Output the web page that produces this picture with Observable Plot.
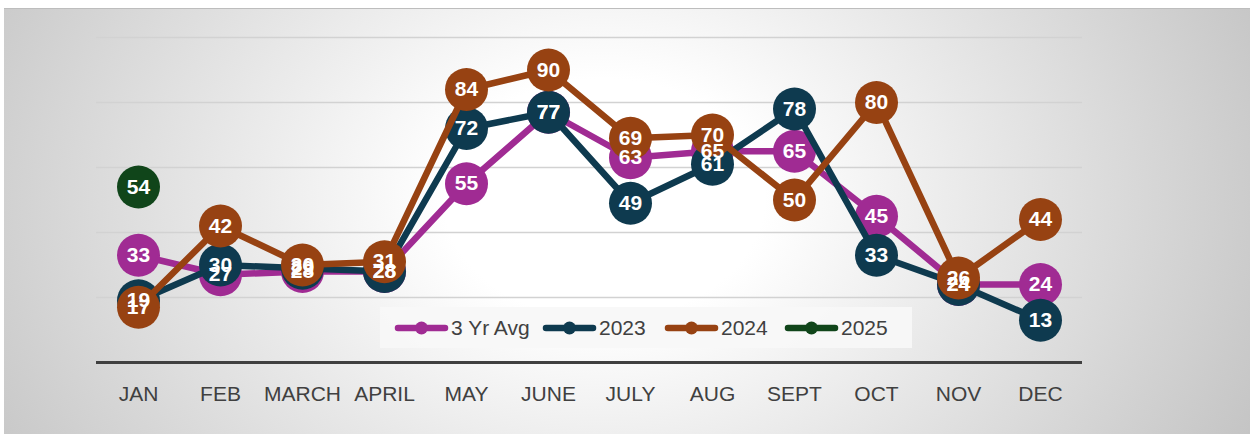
<!DOCTYPE html>
<html><head><meta charset="utf-8">
<script src="https://cdn.jsdelivr.net/npm/d3@7"></script>
<script src="https://cdn.jsdelivr.net/npm/@observablehq/plot@0.6"></script>
<style>
body{margin:0;background:#fff;}
#wrap{position:relative;width:1252px;height:434px;overflow:hidden;font-family:"Liberation Sans",Arial,sans-serif;}
#frame{position:absolute;left:4px;top:8px;width:1246px;height:426px;background:radial-gradient(ellipse 800px 600px at 600px 190px,#ffffff 0%,#ffffff 20%,#bcbcbc 100%);border-top:1px solid #bdbdbd;box-sizing:border-box;}
#chart{position:absolute;left:0;top:0;}
#legend{position:absolute;left:380px;top:307px;width:532px;height:41px;background:rgba(247,247,247,0.92);font-size:21px;color:#404040;}
.item{position:absolute;top:0;height:41px;display:flex;align-items:center;gap:2px;}
</style>
</head><body>
<div id="wrap"><div id="frame"></div><div id="chart"></div><div id="legend"></div></div>
<script>
const months = ["JAN","FEB","MARCH","APRIL","MAY","JUNE","JULY","AUG","SEPT","OCT","NOV","DEC"];
const avg3   = [33, 27, 28, 28, 55, 77, 63, 65, 65, 45, 24, 24];
const y2023  = [19, 30, 29, 28, 72, 77, 49, 61, 78, 33, 24, 13];
const y2024  = [17, 42, 30, 31, 84, 90, 69, 70, 50, 80, 26, 44];
const y2025  = [54];
const seriesNames  = ["3 Yr Avg", "2023", "2024", "2025"];
const seriesValues = [avg3, y2023, y2024, y2025];
const seriesColors = ["#A02B93", "#0E3A4F", "#974212", "#10451A"];
const gridTicks = [20, 40, 60, 80, 100];

const series = seriesNames.map((name, k) => ({
  name, color: seriesColors[k],
  rows: seriesValues[k].map((v, i) => ({month: months[i], value: v, series: name}))
}));

const marks = [
  Plot.ruleY(gridTicks, {stroke: "#d2d2d2", strokeWidth: 1.5}),
  Plot.ruleY([0], {stroke: "#404040", strokeWidth: 3}),
  Plot.axisX({tickSize: 0, tickPadding: 24, fontSize: 21, color: "#404040", fontFamily: "Liberation Sans, Arial, sans-serif"})
];
for (const s of series) {
  marks.push(Plot.line(s.rows, {x: "month", y: "value", stroke: s.color, strokeWidth: 6.5}));
  marks.push(Plot.dot(s.rows, {x: "month", y: "value", r: 21.5, fill: s.color, stroke: "none"}));
}
for (const s of series) {
  marks.push(Plot.text(s.rows, {x: "month", y: "value", text: d => String(d.value), fill: "white", fontWeight: "bold", fontSize: 21}));
}

const chart = Plot.plot({
  width: 1252, height: 434,
  marginLeft: 96, marginRight: 170, marginTop: 37, marginBottom: 72,
  x: {type: "point", domain: months, padding: 0.5, label: null},
  y: {domain: [0, 100], axis: null},
  style: {background: "transparent", fontFamily: "Liberation Sans, Arial, sans-serif", overflow: "visible"},
  marks
});
document.getElementById("chart").appendChild(chart);

const legend = document.getElementById("legend");
const legendLefts = [14, 162, 284, 404];
series.forEach((s, k) => {
  const item = document.createElement("div");
  item.className = "item";
  item.style.left = legendLefts[k] + "px";
  item.innerHTML = `<svg width="55" height="14"><line x1="4" y1="7" x2="51" y2="7" stroke="${s.color}" stroke-width="6.5" stroke-linecap="round"/><circle cx="27.5" cy="7" r="6.5" fill="${s.color}"/></svg><span>${s.name}</span>`;
  legend.appendChild(item);
});
</script>
</body></html>
